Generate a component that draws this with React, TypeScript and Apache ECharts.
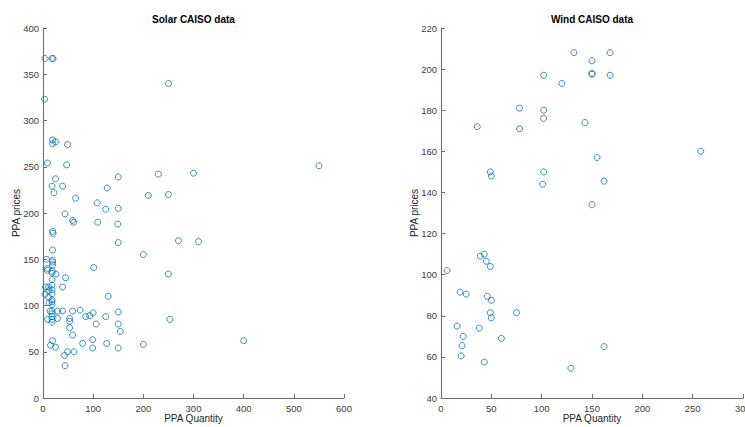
import React, { useEffect, useRef } from "react";
import * as echarts from "echarts";

const solarQuantity = [
  4, 18, 20, 3, 250, 19, 25, 19, 49, 9, 47, 25, 18, 39, 22, 65, 150, 128, 230, 300,
  210, 250, 108, 125, 150, 44, 59, 61, 109, 149, 150, 270, 310, 550, 400, 200, 250, 253, 200, 101,
  130, 150, 150, 154, 150, 127, 99, 99, 79, 125, 106, 100, 93, 85, 74, 59, 53, 53, 53, 59,
  62, 49, 43, 44, 45, 39, 29, 39, 29, 26, 19, 20, 19, 19, 19, 19, 7, 9, 9, 18,
  18, 18, 5, 4, 11, 11, 18, 18, 18, 11, 18, 18, 18, 12, 14, 18, 18, 18, 18, 18,
  9, 15, 19, 25,
];
const solarPrice = [
  367, 367, 367, 323, 340, 279, 277, 275, 274, 254, 252, 237, 229, 229, 222, 216, 239, 227, 242, 243,
  219, 220, 211, 204, 205, 199, 192, 190, 190, 188, 168, 170, 169, 251, 62, 155, 134, 85, 58, 141,
  110, 93, 80, 72, 54, 59, 54, 63, 59, 88, 80, 92, 89, 88, 95, 94, 86, 83, 76, 68,
  50, 50, 46, 35, 130, 120, 94, 94, 86, 134, 180, 178, 160, 149, 147, 144, 150, 140, 138, 137,
  135, 128, 120, 112, 120, 116, 122, 117, 113, 109, 106, 104, 101, 103, 94, 94, 91, 88, 85, 82,
  85, 57, 62, 55,
];

const windQuantity = [
  6, 19, 25, 16, 22, 21, 20, 38, 43, 60, 39, 43, 45, 49, 46, 50, 49, 50, 75, 36,
  49, 50, 78, 78, 102, 102, 102, 102, 101, 120, 132, 168, 150, 150, 150, 168, 143, 258, 155, 162,
  150, 162, 129,
];
const windPrice = [
  102, 91.5, 90.5, 75, 70, 65.5, 60.5, 74, 57.5, 69, 109, 110, 106.5, 104, 89.5, 87.5, 81.5, 79, 81.5, 172,
  150, 148, 181, 171, 197, 180, 176, 150, 144, 193, 208, 208, 204, 198, 197.5, 197, 174, 160, 157, 145.5,
  134, 65, 54.5,
];

const solarXTicks = { min: 0, max: 600, interval: 100 };
const solarYTicks = { min: 0, max: 400, interval: 50 };
const windXTicks = { min: 0, max: 300, interval: 50 };
const windYTicks = { min: 40, max: 220, interval: 20 };

const titles = ["Solar CAISO data", "Wind CAISO data"];
const xName = "PPA Quantity";
const yName = "PPA prices";

const FONT = "'Liberation Sans', Arial, Helvetica, sans-serif";
const AXIS_COLOR = "#6a6a6a";
const LABEL_COLOR = "#404040";
const MARK = "#0072BD";

function axisCommon(ticks: { min: number; max: number; interval: number }) {
  return {
    type: "value",
    min: ticks.min,
    max: ticks.max,
    interval: ticks.interval,
    splitLine: { show: false },
    axisLine: { show: true, onZero: false, lineStyle: { color: AXIS_COLOR, width: 1 } },
    axisTick: { show: true, inside: true, length: 4, lineStyle: { color: AXIS_COLOR } },
    axisLabel: { color: LABEL_COLOR, fontFamily: FONT, fontSize: 9.5 },
    nameTextStyle: { color: "#262626", fontFamily: FONT, fontSize: 10 },
    nameLocation: "middle",
    nameMoveOverlap: false,
  };
}

export default function App() {
  const ref = useRef<HTMLDivElement>(null);
  useEffect(() => {
    if (!ref.current) return;
    const chart = echarts.init(ref.current, undefined, { renderer: "svg" });
    const solarData = solarQuantity.map((q, i) => [q, solarPrice[i]]);
    const windData = windQuantity.map((q, i) => [q, windPrice[i]]);
    chart.setOption({
      animation: false,
      backgroundColor: "#ffffff",
      grid: [
        { left: 43, top: 28, width: 301, height: 370, containLabel: false, outerBoundsMode: "none" },
        { left: 441, top: 28, width: 302, height: 370, containLabel: false, outerBoundsMode: "none" },
      ],
      xAxis: [
        { ...axisCommon(solarXTicks), gridIndex: 0, name: xName, nameGap: 15, axisLabel: { ...axisCommon(solarXTicks).axisLabel, margin: 5 } },
        { ...axisCommon(windXTicks), gridIndex: 1, name: xName, nameGap: 15, axisLabel: { ...axisCommon(windXTicks).axisLabel, margin: 5 } },
      ],
      yAxis: [
        { ...axisCommon(solarYTicks), gridIndex: 0, name: yName, nameGap: 22, axisLabel: { ...axisCommon(solarYTicks).axisLabel, margin: 4 } },
        { ...axisCommon(windYTicks), gridIndex: 1, name: yName, nameGap: 22, axisLabel: { ...axisCommon(windYTicks).axisLabel, margin: 4 } },
      ],
      graphic: [
        {
          type: "text",
          x: 193.5,
          y: 19,
          style: { text: titles[0], font: `bold 10px ${FONT}`, fill: "#000000", textAlign: "center", textVerticalAlign: "middle" },
        },
        {
          type: "text",
          x: 592,
          y: 19,
          style: { text: titles[1], font: `bold 10px ${FONT}`, fill: "#000000", textAlign: "center", textVerticalAlign: "middle" },
        },
      ],
      series: [
        {
          type: "scatter",
          xAxisIndex: 0,
          yAxisIndex: 0,
          data: solarData,
          symbol: "circle",
          symbolSize: 6,
          itemStyle: { color: "rgba(0,0,0,0)", borderColor: MARK, borderWidth: 1 },
        },
        {
          type: "scatter",
          xAxisIndex: 1,
          yAxisIndex: 1,
          data: windData,
          symbol: "circle",
          symbolSize: 6,
          itemStyle: { color: "rgba(0,0,0,0)", borderColor: MARK, borderWidth: 1 },
        },
      ],
    });
    return () => chart.dispose();
  }, []);
  return (
    <div
      ref={ref}
      style={{ position: "fixed", left: 0, top: 0, width: 745, height: 427, background: "#fff" }}
    />
  );
}
